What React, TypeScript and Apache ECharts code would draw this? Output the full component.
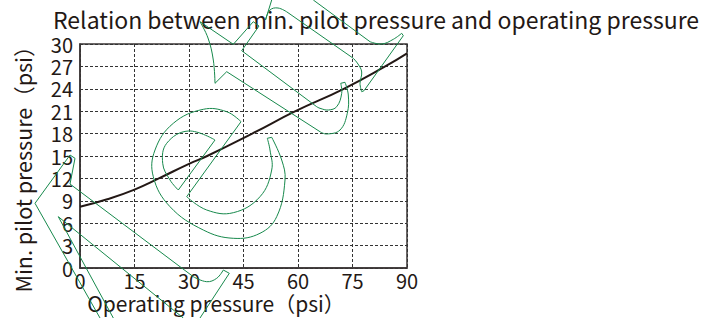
import React, { useEffect, useRef } from "react";
import * as echarts from "echarts";

const titleText = "Relation between min. pilot pressure and operating pressure";
const xAxisName = "Operating pressure（psi）";
const yAxisName = "Min. pilot pressure（psi）";

// operating pressure (psi)
const operatingPressure = [0, 7.5, 15, 21.7, 30, 35, 47.4, 59.3, 72.6, 84, 90];
// min. pilot pressure (psi)
const pilotPressure = [8.2, 9.2, 10.5, 12, 13.95, 15, 18, 21, 24, 27, 28.75];

const xTicks = [0, 15, 30, 45, 60, 75, 90];
const yTicks = [0, 3, 6, 9, 12, 15, 18, 21, 24, 27, 30];

const FONT = "'Noto Sans CJK JP', 'Noto Sans', sans-serif";
const INK = "#231815";
const GREEN = "#17894c";

// decorative watermark outline pieces: [points, smooth]
const watermark: Array<[number[][], number]> = [
  // big C
  [[[241, 121.7], [186.7, 196.7]], 0],
  [[[186.7, 196.7], [206.7, 210], [233.3, 212.7], [260, 196.7], [271.7, 170], [270, 150], [267.3, 138.3]], 0.4],
  [[[267.3, 138.3], [271.7, 137.3]], 0],
  [[[271.7, 137.3], [281.7, 160], [285, 180], [276.7, 216.7], [260, 233.3], [233.3, 238.3], [203.3, 230], [170, 206.7], [153.3, 176.7], [155, 150], [173.3, 123.3], [203.3, 109.3], [226.7, 111.7], [241, 121.7]], 0.4],
  // inner wedge
  [[[215, 140], [178.3, 190]], 0],
  [[[178.3, 190], [170, 180], [162.7, 163.3], [166.7, 143.3], [188.3, 131], [215, 140]], 0.4],
  // upper hook
  [[[200, 21.7], [233.3, 44.3], [253.3, 21.7], [259, 26], [241.7, 50.7], [316.7, 106.7]], 0],
  [[[316.7, 106.7], [320, 108.3], [328.3, 110], [336.7, 106.7], [341.7, 93.3], [340.7, 83.3]], 0.4],
  [[[340.7, 83.3], [345, 82.3]], 0],
  [[[345, 82.3], [348.3, 95], [347.3, 113.3], [340, 130], [326.7, 134], [320, 131.7]], 0.4],
  [[[320, 131.7], [226.7, 71.7], [215, 83.3]], 0],
  [[[215, 83.3], [213.3, 60], [208, 38], [200, 21.7]], 0.4],
  // top right hook
  [[[271.7, 0], [265.5, 20]], 0],
  [[[265.5, 20], [270, 10], [278, 8], [287, 12]], 0.4],
  [[[287, 12], [353.3, 58.3]], 0],
  [[[353.3, 58.3], [358, 64], [361.7, 72], [360, 83.3], [361.7, 91.7]], 0.4],
  [[[313.3, 0], [370, 41.7]], 0],
  [[[370, 41.7], [381.7, 44], [393.3, 39.3], [401.7, 33.3]], 0.4],
  [[[401.7, 33.3], [403.3, 35.7], [364, 90.7], [361.7, 91.7]], 0],
  // lower left
  [[[100, 318], [35, 203.3], [70, 155], [75, 158.3], [70, 184], [193.3, 276.7]], 0],
  [[[193.3, 276.7], [206.7, 281.7], [216.7, 278.3], [223.3, 270]], 0.4],
  [[[223.3, 270], [229.3, 273.3], [200, 318]], 0],
  [[[113.3, 318], [58.3, 216.7], [183.3, 318]], 0],
];

export default function App() {
  const ref = useRef<HTMLDivElement>(null);
  useEffect(() => {
    if (!ref.current) return;
    const chart = echarts.init(ref.current, null, { renderer: "svg" });
    const data = operatingPressure.map((x, i) => [x, pilotPressure[i]]);
    const labelStyle = { fontSize: 20, lineHeight: 18, color: INK, fontFamily: FONT };
    chart.setOption({
      animation: false,
      backgroundColor: "#ffffff",
      title: {
        text: titleText,
        left: 48,
        top: 2,
        textStyle: { fontSize: 23, lineHeight: 24, fontWeight: "normal", color: INK, fontFamily: FONT },
      },
      grid: {
        left: 80,
        right: 300,
        top: 44,
        bottom: 50,
        show: true,
        borderColor: "#3a3435",
        borderWidth: 1.5,
        backgroundColor: "transparent",
      },
      xAxis: {
        type: "value",
        min: xTicks[0],
        max: xTicks[xTicks.length - 1],
        interval: 15,
        axisLine: { show: true, lineStyle: { color: "#3a3435", width: 1.5 } },
        axisTick: { show: false },
        axisLabel: { ...labelStyle, margin: 3 },
        splitLine: { show: true, lineStyle: { color: "#333", type: [3, 2], width: 1 } },
      },
      yAxis: {
        type: "value",
        min: yTicks[0],
        max: yTicks[yTicks.length - 1],
        interval: 3,
        axisLine: { show: true, lineStyle: { color: "#3a3435", width: 1.5 } },
        axisTick: { show: false },
        axisLabel: { ...labelStyle, margin: 7 },
        splitLine: { show: true, lineStyle: { color: "#333", type: [3, 2], width: 1 } },
      },
      series: [
        {
          type: "line",
          data,
          smooth: 0.5,
          showSymbol: false,
          lineStyle: { color: INK, width: 2 },
          z: 3,
        },
      ],
      graphic: [
        {
          type: "text",
          x: 22,
          y: 164,
          rotation: Math.PI / 2,
          style: { text: yAxisName, fontSize: 21.5, lineHeight: 18, fill: INK, fontFamily: FONT, align: "center", verticalAlign: "middle" },
        },
        {
          type: "text",
          x: 216,
          y: 303,
          style: { text: xAxisName, fontSize: 21, lineHeight: 18, fill: INK, fontFamily: FONT, align: "center", verticalAlign: "middle" },
        },
        ...watermark.map(([pts, sm]) => ({
          type: "polyline",
          silent: true,
          z: 100,
          shape: { points: pts, smooth: sm },
          style: { stroke: GREEN, fill: null, lineWidth: 1 },
        })),
      ],
    });
    return () => chart.dispose();
  }, []);
  return (
    <div
      ref={ref}
      style={{ position: "absolute", left: 0, top: 0, width: 707, height: 318 }}
    />
  );
}
